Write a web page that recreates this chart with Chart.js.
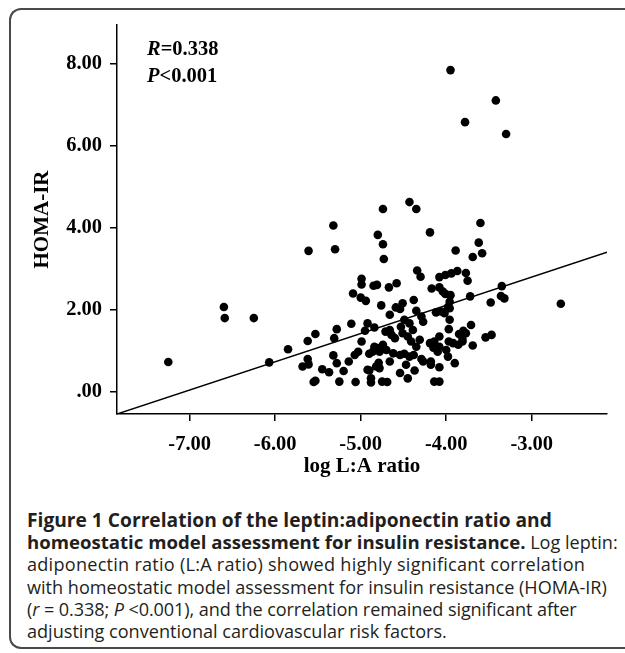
<!DOCTYPE html>
<html><head><meta charset="utf-8">
<script src="https://cdn.jsdelivr.net/npm/chart.js@4.4.0/dist/chart.umd.min.js"></script>
<style>
html,body{margin:0;padding:0;background:#fff;width:625px;height:653px;overflow:hidden;position:relative;}
#frame{position:absolute;left:9px;top:8px;width:700px;height:641px;border:2px solid #4a4a4a;border-right:none;border-radius:12px 0 0 12px;box-sizing:border-box;}
#wrap{position:absolute;left:0;top:0;width:625px;height:490px;}
#caption{position:absolute;left:27px;top:509px;font-family:"Open Sans",sans-serif;font-size:18.1px;line-height:22.2px;color:#231f20;white-space:nowrap;}
#caption b{font-weight:700;font-size:19.2px;}
</style></head>
<body>
<div id="frame"></div>
<div id="wrap"><canvas id="c" width="625" height="490"></canvas></div>
<div id="caption">
<div><b>Figure 1 Correlation of the leptin:adiponectin ratio and</b></div>
<div><b style="font-size:18.6px">homeostatic model assessment for insulin resistance.</b> Log leptin:</div>
<div style="letter-spacing:0.25px">adiponectin ratio (L:A ratio) showed highly significant correlation</div>
<div>with homeostatic model assessment for insulin resistance (HOMA-IR)</div>
<div style="letter-spacing:-0.1px">(<i>r</i> = 0.338; <i>P</i> &lt;0.001), and the correlation remained significant after</div>
<div>adjusting conventional cardiovascular risk factors.</div>
</div>
<script>
const xTickValues = [-7, -6, -5, -4, -3];
const xTickLabels = ['-7.00', '-6.00', '-5.00', '-4.00', '-3.00'];
const yTickValues = [0, 2, 4, 6, 8];
const yTickLabels = ['.00', '2.00', '4.00', '6.00', '8.00'];
const xRange = [-7.85, -2.12];
const yRange = [-0.54, 8.95];
const xTitle = 'log L:A ratio';
const yTitle = 'HOMA-IR';
const statLines = [['R', '=0.338'], ['P', '<0.001']];

const logLA = [
-3.95,-3.42,-3.78,-3.30,-4.43,-4.35,-4.74,-5.32,-5.61,-5.30,
-4.80,-4.74,-4.73,-4.19,-3.60,-3.62,-3.58,-3.69,-3.89,-4.34,
-4.30,-4.99,-4.99,-4.85,-4.81,-4.67,-4.58,-5.09,-5.00,-4.94,
-4.76,-4.59,-4.51,-4.38,-4.54,-4.08,-4.01,-3.94,-3.87,-3.77,
-3.75,-4.17,-4.08,-4.04,-4.01,-3.95,-3.72,-3.96,-3.98,-3.48,
-3.35,-3.36,-3.32,-2.66,
-7.25,-6.60,-6.59,-6.25,-6.07,-5.85,-5.62,-5.53,-5.62,-5.68,
-5.61,-5.55,-5.53,-5.45,-5.37,-5.31,-5.28,-5.32,-5.28,-5.20,
-5.25,-5.11,-5.14,-5.06,-4.99,-4.95,-5.03,-5.07,-4.92,-4.92,
-4.66,-4.35,-4.29,-4.27,-4.12,-4.06,-4.02,-3.96,-3.96,-3.97,
-3.71,-3.80,-3.85,-3.97,-4.08,-4.14,-3.92,-3.54,-3.47,-4.84,
-4.71,-4.66,-4.64,-4.60,-4.53,-4.51,-4.45,-4.41,-4.35,-4.31,
-4.39,-4.43,-4.49,-4.74,-4.80,-4.84,-4.86,-4.78,-4.70,-4.62,
-4.54,-4.49,-4.43,-4.38,-4.29,-4.18,-4.19,-4.15,-4.10,-4.08,
-4.00,-3.98,-3.90,-3.86,-3.81,-3.77,-4.82,-4.78,-4.66,-4.54,
-4.45,-4.37,-4.47,-4.27,-4.18,-4.08,-4.14,-4.08,-4.88,-4.75,
-4.69,-4.90,-4.90,-4.79,-4.88,-3.69,-3.81
];
const homaIR = [
7.85,7.11,6.58,6.29,4.63,4.46,4.46,4.06,3.44,3.48,
3.83,3.60,3.24,3.89,4.12,3.64,3.38,3.29,3.45,2.96,
2.81,2.76,2.62,2.59,2.61,2.55,2.65,2.40,2.30,2.22,
2.11,2.06,2.16,2.24,2.02,2.80,2.85,2.89,2.95,2.90,
2.71,2.52,2.55,2.45,2.39,2.36,2.33,2.20,2.07,2.18,
2.58,2.34,2.28,2.15,
0.73,2.07,1.80,1.80,0.72,1.04,1.24,1.41,0.80,0.62,
0.67,0.24,0.27,0.55,0.48,1.31,1.53,0.89,0.70,0.51,
0.25,1.66,0.74,0.24,1.23,1.49,0.98,0.90,1.67,0.54,
1.88,1.98,1.84,1.71,1.94,1.96,1.92,2.04,1.76,1.53,
1.63,1.49,1.41,1.23,1.35,1.23,1.19,1.33,1.39,1.57,
1.47,1.51,1.39,1.31,1.59,1.43,1.35,1.23,1.10,1.27,
1.51,1.67,1.76,1.15,1.07,1.10,0.98,0.98,1.02,0.94,
0.90,0.93,0.86,0.90,0.80,0.74,1.19,1.08,0.98,1.10,
1.02,0.86,0.70,1.15,1.23,1.43,0.62,0.58,0.74,0.46,
0.33,0.52,0.66,0.74,0.66,0.60,0.25,0.25,0.33,0.25,
0.24,0.93,0.52,0.71,0.23,1.13,1.29
];
const fitX = [-7.85, -2.12];
const fitY = [-0.54, 3.41];

const FONT = '"Liberation Serif", "Times New Roman", serif';
const FS = 20.5;

const statPlugin = {
  id: 'stats',
  afterDraw(chart) {
    const ctx = chart.ctx, a = chart.chartArea;
    ctx.save();
    ctx.fillStyle = '#000';
    ctx.textBaseline = 'alphabetic';
    ctx.textAlign = 'left';
    statLines.forEach((ln, i) => {
      const x = a.left + 30, y = a.top + 30 + i * 27;
      ctx.font = 'italic bold ' + FS + 'px ' + FONT;
      ctx.fillText(ln[0], x, y);
      const w = ctx.measureText(ln[0]).width;
      ctx.font = 'bold ' + FS + 'px ' + FONT;
      ctx.fillText(ln[1], x + w, y);
    });
    ctx.restore();
  }
};

const tickFont = { family: FONT, weight: 'bold', size: FS };
const titleFont = { family: FONT, weight: 'bold', size: 21 };

new Chart(document.getElementById('c'), {
  type: 'scatter',
  data: {
    datasets: [
      {
        type: 'scatter',
        data: logLA.map((x, i) => ({ x: x, y: homaIR[i] })),
        pointRadius: 4.3,
        pointBackgroundColor: '#000',
        pointBorderWidth: 0,
        pointHoverRadius: 4.3
      },
      {
        type: 'line',
        data: fitX.map((x, i) => ({ x: x, y: fitY[i] })),
        borderColor: '#000',
        borderWidth: 1.5,
        pointRadius: 0,
        fill: false,
        tension: 0
      }
    ]
  },
  options: {
    responsive: false,
    animation: false,
    devicePixelRatio: 1,
    layout: { padding: { left: 0, top: 25, right: 18, bottom: 0 } },
    plugins: { legend: { display: false }, tooltip: { enabled: false } },
    scales: {
      x: {
        type: 'linear',
        min: xRange[0], max: xRange[1],
        afterBuildTicks: s => { s.ticks = xTickValues.map(v => ({ value: v })); },
        afterFit: s => { s.height = 76; },
        ticks: { callback: (v, i) => xTickLabels[i], font: tickFont, color: '#000', padding: 11, maxRotation: 0, autoSkip: false },
        grid: { drawOnChartArea: false, drawTicks: true, tickLength: 7, color: '#000', lineWidth: 1.5 },
        border: { display: true, color: '#000', width: 1.5 },
        title: { display: true, text: xTitle, font: titleFont, color: '#000', padding: { top: 0, bottom: 11 } }
      },
      y: {
        type: 'linear',
        min: yRange[0], max: yRange[1],
        afterBuildTicks: s => { s.ticks = yTickValues.map(v => ({ value: v })); },
        afterFit: s => { s.width = 117; },
        ticks: { callback: (v, i) => yTickLabels[i], font: tickFont, color: '#000', padding: 8, autoSkip: false },
        grid: { drawOnChartArea: false, drawTicks: true, tickLength: 7, color: '#000', lineWidth: 1.5 },
        border: { display: true, color: '#000', width: 1.5 },
        title: { display: true, text: yTitle, font: titleFont, color: '#000', padding: { top: 30, bottom: 0 } }
      }
    }
  },
  plugins: [statPlugin]
});
</script>
</body></html>
